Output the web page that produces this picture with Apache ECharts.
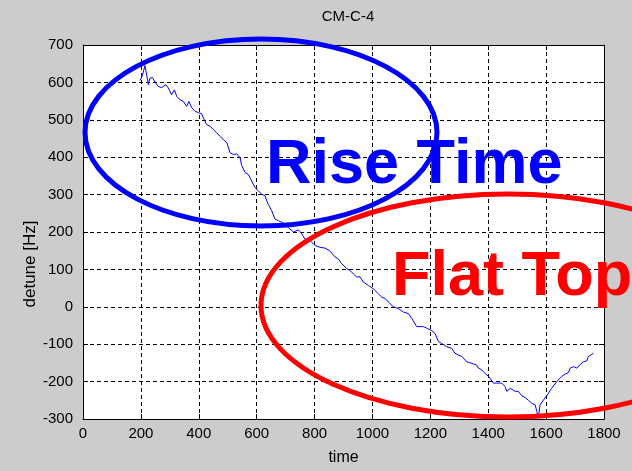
<!DOCTYPE html>
<html>
<head>
<meta charset="utf-8">
<script src="https://cdn.jsdelivr.net/npm/echarts@6/dist/echarts.min.js"></script>
<style>
  html, body { margin: 0; padding: 0; background: #cccccc; }
  #chart { width: 632px; height: 471px; }
</style>
</head>
<body>
<div id="chart"></div>
<script>
// Detune trace of cavity CM-C-4 over time
const times = [
  197, 205, 214, 220, 226, 231, 240, 249, 260, 272, 286, 295, 306, 316, 324, 335,
  347, 358, 366, 376, 387, 399, 410, 416, 427, 439, 450, 462, 473, 485, 497, 508,
  520, 531, 543, 548, 560, 571, 583, 594, 606, 617, 629, 635, 640, 652, 663, 675,
  687, 698, 709, 727, 744, 756, 767, 784, 802, 819, 836, 852, 871, 882, 894, 911,
  923, 934, 945, 957, 969, 986, 1003, 1009, 1020, 1032, 1044, 1055, 1072, 1090, 1107, 1124,
  1136, 1153, 1164, 1176, 1190, 1205, 1216, 1228, 1239, 1257, 1274, 1285, 1297, 1309, 1326, 1343,
  1360, 1366, 1378, 1389, 1401, 1418, 1429, 1447, 1458, 1464, 1476, 1493, 1504, 1516, 1527, 1539,
  1550, 1562, 1568, 1573, 1579, 1585, 1596, 1608, 1619, 1637, 1654, 1666, 1677, 1683, 1694, 1706,
  1715, 1729, 1740, 1746, 1758, 1764
];
const detune = [
  605, 618, 645, 620, 594, 611, 613, 601, 589, 586, 594, 585, 567, 580, 562, 554,
  549, 536, 549, 532, 523, 519, 516, 505, 487, 483, 474, 465, 456, 447, 439, 412,
  407, 409, 398, 378, 359, 354, 336, 319, 310, 301, 297, 283, 274, 257, 235, 230,
  226, 220, 212, 200, 206, 195, 181, 177, 164, 159, 157, 150, 133, 128, 115, 102,
  97, 88, 80, 80, 66, 57, 48, 48, 35, 26, 22, 13, 0, -5, -14, -18,
  -31, -53, -53, -53, -58, -64, -71, -93, -98, -107, -111, -124, -129, -133, -147, -151,
  -156, -164, -169, -178, -186, -204, -204, -204, -213, -226, -218, -226, -226, -238, -242, -250,
  -258, -262, -280, -297, -262, -257, -244, -231, -218, -200, -186, -180, -176, -164, -160, -164,
  -156, -147, -145, -133, -127, -124
];

const titleText = 'CM-C-4';
const xName = 'time';
const yName = 'detune [Hz]';
const noteRise = 'Rise Time';
const noteFlat = 'Flat Top';

const axisFont = "'Liberation Sans', Arial, sans-serif";
const noteFont = "'Liberation Sans', Arial, sans-serif";

const chart = echarts.init(document.getElementById('chart'), null, { renderer: 'canvas' });

const gridLine = { show: true, lineStyle: { color: '#000', type: [4, 3], width: 1 } };
const frameLine = { show: true, onZero: false, lineStyle: { color: '#000', width: 1 } };
const innerTick = { show: true, inside: true, length: 5, lineStyle: { color: '#000' } };
const plain = v => String(v);

chart.setOption({
  backgroundColor: '#cccccc',
  animation: false,
  title: {
    text: titleText,
    left: 343, top: 4, textAlign: 'center',
    textStyle: { fontFamily: axisFont, fontSize: 15, fontWeight: 'normal', color: '#000' }
  },
  grid: {
    left: 83, top: 45, right: 28, bottom: 50,
    show: true, backgroundColor: '#ffffff', borderWidth: 0
  },
  xAxis: [
    {
      type: 'value', min: 0, max: 1800, interval: 200, position: 'bottom',
      axisLine: frameLine, axisTick: innerTick, splitLine: gridLine,
      axisLabel: { color: '#000', fontFamily: axisFont, fontSize: 15, margin: 7, formatter: plain },
      name: xName, nameLocation: 'middle', nameGap: 31,
      nameTextStyle: { color: '#000', fontFamily: axisFont, fontSize: 16 }
    },
    {
      type: 'value', min: 0, max: 1800, interval: 200, position: 'top',
      axisLine: frameLine, axisTick: innerTick, splitLine: { show: false },
      axisLabel: { show: false }
    }
  ],
  yAxis: [
    {
      type: 'value', min: -300, max: 700, interval: 100, position: 'left',
      axisLine: frameLine, axisTick: innerTick, splitLine: gridLine,
      axisLabel: { color: '#000', fontFamily: axisFont, fontSize: 15, margin: 10, formatter: plain }
    },
    {
      type: 'value', min: -300, max: 700, interval: 100, position: 'right',
      axisLine: frameLine, axisTick: innerTick, splitLine: { show: false },
      axisLabel: { show: false }
    }
  ],
  series: [{
    type: 'line',
    data: times.map((t, i) => [t, detune[i]]),
    showSymbol: false,
    lineStyle: { color: '#0000ff', width: 1 },
    z: 3
  }],
  graphic: [
    {
      type: 'text', x: 30, y: 264, rotation: Math.PI / 2,
      style: { text: yName, fill: '#000', font: "17px " + axisFont, align: 'center', verticalAlign: 'middle' }
    },
    {
      type: 'ellipse', z: 10,
      shape: { cx: 261, cy: 132.5, rx: 176, ry: 93.5 },
      style: { fill: 'none', stroke: '#0000ff', lineWidth: 5 }
    },
    {
      type: 'ellipse', z: 10,
      shape: { cx: 508, cy: 305.5, rx: 247, ry: 111.5 },
      style: { fill: 'none', stroke: '#ff0000', lineWidth: 5 }
    },
    {
      type: 'text', z: 11, x: 266, y: 166,
      style: { text: noteRise, fill: '#0000ff', font: "bold 63px " + noteFont, align: 'left', verticalAlign: 'middle' }
    },
    {
      type: 'text', z: 11, x: 392, y: 278,
      style: { text: noteFlat, fill: '#ff0000', font: "bold 63px " + noteFont, align: 'left', verticalAlign: 'middle' }
    }
  ]
});
</script>
</body>
</html>
